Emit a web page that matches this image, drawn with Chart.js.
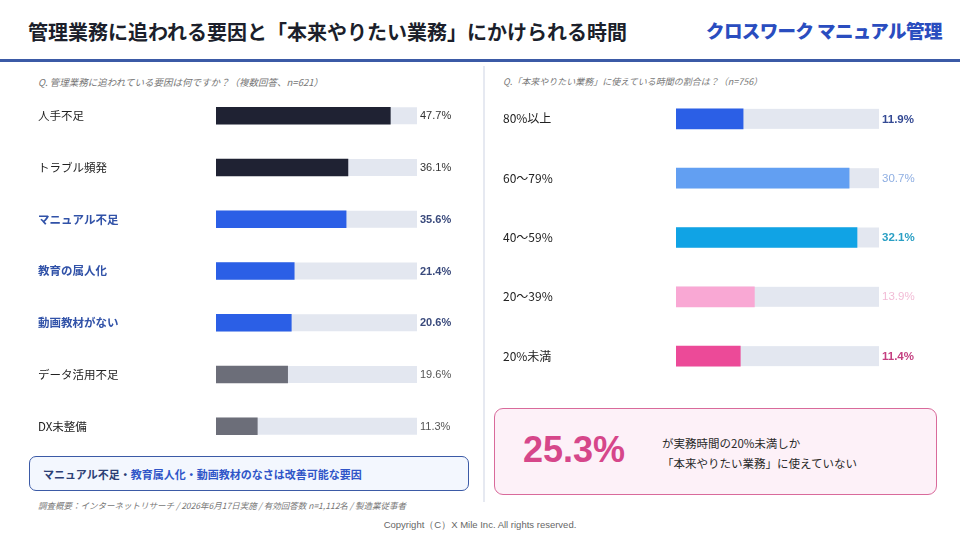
<!DOCTYPE html>
<html lang="ja">
<head>
<meta charset="utf-8">
<script src="https://cdn.jsdelivr.net/npm/chart.js@4.4.1/dist/chart.umd.min.js"></script>
<style>
  html, body { margin: 0; padding: 0; background: #fff; }
  body { width: 960px; height: 540px; position: relative; overflow: hidden;
         font-family: "Noto Sans CJK JP", "Noto Sans", sans-serif; color: #222; }
  .abs { position: absolute; white-space: nowrap; }
  #title { left: 28px; top: 17px; font-size: 20px; font-weight: 700; color: #1c1f2b; letter-spacing: 0px; }
  #logo { left: 706px; top: 17px; font-size: 18.5px; font-weight: 900; color: #2a4dbf; letter-spacing: -0.6px; }
  #rule { left: 0; top: 59px; width: 960px; height: 3px; background: #3b5aa6; }
  #divider { left: 483px; top: 66px; width: 2px; height: 436px; background: #e6e9f1; }
  .q { top: 75px; font-size: 9px; font-style: italic; color: #777; }
  #box1 { left: 29px; top: 456px; width: 440px; height: 35px; border: 1.5px solid #3b5aa6; border-radius: 7px;
          background: #f3f7fe; box-sizing: border-box; }
  #box1 span { position: absolute; left: 13px; top: 9px; font-size: 11px; font-weight: 700; color: #2f55c8; }
  #box2 { left: 494px; top: 408px; width: 443px; height: 87px; border: 1.5px solid #d96a9b; border-radius: 9px;
          background: #fdf1f8; box-sizing: border-box; }
  #big { left: 28px; top: 20px; font-size: 36px; font-weight: 700; color: #d6478a; font-family: "Liberation Sans", Arial, sans-serif; }
  #msg { left: 167px; top: 24px; font-size: 11.5px; line-height: 20px; color: #2a2a2a; }
  #note { left: 38px; top: 499px; font-size: 8.5px; font-style: italic; color: #777; }
  #copy { left: 0; width: 960px; text-align: center; top: 519px; font-size: 9.5px; color: #666;
          font-family: "Liberation Sans", Arial, sans-serif; }
  canvas { position: absolute; }
</style>
</head>
<body>
<div class="abs" id="title">管理業務に追われる要因と「本来やりたい業務」にかけられる時間</div>
<div class="abs" id="logo">クロスワーク マニュアル管理</div>
<div class="abs" id="rule"></div>
<div class="abs" id="divider"></div>
<div class="abs q" style="left:38px; font-size:9.5px">Q. 管理業務に追われている要因は何ですか？（複数回答、n=621）</div>
<div class="abs q" style="left:503px">Q.「本来やりたい業務」に使えている時間の割合は？（n=756）</div>

<canvas id="left" style="left:38px; top:83px" width="437" height="376"></canvas>
<canvas id="right" style="left:503px; top:82px" width="430" height="311"></canvas>

<div class="abs" id="box1"><span><span style="position:static;color:#2c3f75">マニュアル不足・</span>教育属人化・動画教材のなさは改善可能な要因</span></div>
<div class="abs" id="box2">
  <div class="abs" id="big">25.3%</div>
  <div class="abs" id="msg">が実務時間の20%未満しか<br>「本来やりたい業務」に使えていない</div>
</div>
<div class="abs" id="note">調査概要：インターネットリサーチ / 2026年6月17日実施 / 有効回答数 n=1,112名 / 製造業従事者</div>
<div class="abs" id="copy">Copyright（C）X Mile Inc. All rights reserved.</div>

<script>
// ---- data ----
const leftLabels = ['人手不足', 'トラブル頻発', 'マニュアル不足', '教育の属人化', '動画教材がない', 'データ活用不足', 'DX未整備'];
const leftValues = [47.7, 36.1, 35.6, 21.4, 20.6, 19.6, 11.3];
const leftHighlight = [false, false, true, true, true, false, false];
const leftMax = 55;

const rightLabels = ['80%以上', '60～79%', '40～59%', '20～39%', '20%未満'];
const rightValues = [11.9, 30.7, 32.1, 13.9, 11.4];
const rightMax = 36;

// ---- styles ----
const leftBarColors = ['#1f2233', '#1f2233', '#2b5fe6', '#2b5fe6', '#2b5fe6', '#6c6e79', '#6c6e79'];
const rightBarColors = ['#2b5fe6', '#629ff2', '#10a3e5', '#f9a8d4', '#ec4a98'];
const rightValueColors = ['#344a94', '#8eaee2', '#2a9fc4', '#f2bcd6', '#c43f80'];
const rightValueBold = [true, false, true, false, true];
const TRACK = '#e3e7f0';
const FONT = '"Noto Sans CJK JP", "Noto Sans", sans-serif';

// gray track behind each bar, full width of the x scale
const trackPlugin = {
  id: 'track',
  beforeDatasetsDraw(chart) {
    const { ctx, chartArea } = chart;
    const meta = chart.getDatasetMeta(0);
    ctx.save();
    ctx.fillStyle = TRACK;
    meta.data.forEach(bar => {
      const h = bar.height;
      ctx.fillRect(chartArea.left, bar.y - h / 2, chartArea.width, h);
    });
    ctx.restore();
  }
};

// percentage label to the right of the track
const valuePlugin = {
  id: 'values',
  afterDatasetsDraw(chart, args, opts) {
    const { ctx, chartArea } = chart;
    const meta = chart.getDatasetMeta(0);
    const data = chart.data.datasets[0].data;
    ctx.save();
    ctx.textBaseline = 'middle';
    ctx.textAlign = 'left';
    meta.data.forEach((bar, i) => {
      ctx.font = (opts.bold[i] ? 'bold ' : '') + opts.size + 'px "Liberation Sans", Arial, sans-serif';
      ctx.fillStyle = opts.colors[i];
      ctx.fillText(data[i].toFixed(1) + '%', chartArea.right + opts.gap, bar.y + 0.5);
    });
    ctx.restore();
  }
};

function makeChart(id, labels, values, barColors, max, axisWidth, barH, padRight, tickColor, tickFont, valueOpts) {
  return new Chart(document.getElementById(id), {
    type: 'bar',
    data: {
      labels,
      datasets: [{ data: values, backgroundColor: barColors, barThickness: barH, borderWidth: 0 }]
    },
    options: {
      indexAxis: 'y',
      responsive: false,
      animation: false,
      layout: { padding: { left: 0, right: padRight, top: 0, bottom: 0 } },
      plugins: {
        legend: { display: false },
        tooltip: { enabled: false },
        values: valueOpts
      },
      scales: {
        x: { display: false, min: 0, max: max },
        y: {
          grid: { display: false },
          border: { display: false },
          ticks: { crossAlign: 'far', color: tickColor, font: tickFont, padding: 0 },
          afterFit: s => { s.width = axisWidth; }
        }
      }
    },
    plugins: [trackPlugin, valuePlugin]
  });
}

makeChart('left', leftLabels, leftValues, leftBarColors, leftMax, 178, 17, 58,
  c => leftHighlight[c.index] ? '#3152a8' : '#222',
  c => ({ family: FONT, size: 11.5, weight: leftHighlight[c.index] ? 'bold' : 'normal' }),
  {
    size: 11, gap: 3,
    bold: leftHighlight,
    colors: leftValues.map((v, i) => leftHighlight[i] ? '#3a4a7c' : (i < 2 ? '#333' : '#555'))
  });

makeChart('right', rightLabels, rightValues, rightBarColors, rightMax, 173, 20, 54,
  '#222',
  { family: FONT, size: 12 },
  { size: 11.5, gap: 3, bold: rightValueBold, colors: rightValueColors });
</script>
</body>
</html>
